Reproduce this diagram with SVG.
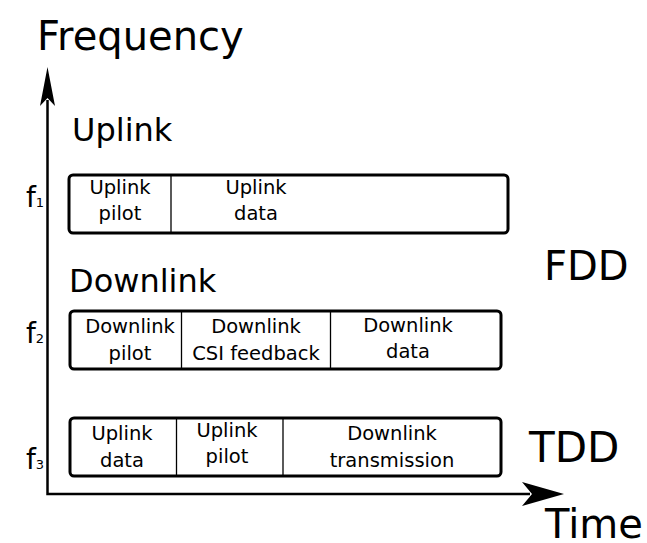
<svg xmlns="http://www.w3.org/2000/svg" width="647" height="543" viewBox="0 0 647 543">
<style>
text{font-family:"DejaVu Sans",sans-serif;fill:#000}
.big{font-size:40px}
.mid{font-size:32px}
.sm{font-size:19.5px;text-anchor:middle}
.f{font-size:28px}
.sub{font-size:13px}
.box{fill:#fff;stroke:#000;stroke-width:3}
.div{stroke:#000;stroke-width:1.3}
.axis{stroke:#000;stroke-width:2.5;fill:none}
</style>
<rect width="647" height="543" fill="#fff"/>
<g id="connectors">
<path class="axis" d="M47.5 100 V494 H530"/>
<path d="M47.5 67 L55 106 L47.5 98 L40 106 Z" fill="#000"/>
<path d="M564 494 L522 482 L532 494 L522 506 Z" fill="#000"/>
</g>
<g id="labels">
<text class="big" x="37" y="50">Frequency</text>
<text class="big" x="545" y="538">Time</text>
<text class="mid" x="72" y="141">Uplink</text>
<text class="mid" x="69" y="292">Downlink</text>
<text class="big" x="544" y="280">FDD</text>
<text class="big" x="529" y="462" style="font-size:42px">TDD</text>
<text class="f" x="26" y="207">f<tspan class="sub">1</tspan></text>
<text class="f" x="26" y="343">f<tspan class="sub">2</tspan></text>
<text class="f" x="26" y="469">f<tspan class="sub">3</tspan></text>
</g>
<g id="fdd-uplink">
<rect class="box" x="69" y="175" width="439" height="58" rx="4"/>
<line class="div" x1="171" y1="176" x2="171" y2="232"/>
<text class="sm" x="120" y="194">Uplink</text>
<text class="sm" x="120" y="220">pilot</text>
<text class="sm" x="256" y="194">Uplink</text>
<text class="sm" x="256" y="220">data</text>
</g>
<g id="fdd-downlink">
<rect class="box" x="70" y="311" width="431" height="58" rx="4"/>
<line class="div" x1="181.5" y1="312" x2="181.5" y2="368"/>
<line class="div" x1="330.5" y1="312" x2="330.5" y2="368"/>
<text class="sm" x="130" y="333">Downlink</text>
<text class="sm" x="130" y="360">pilot</text>
<text class="sm" x="256" y="333">Downlink</text>
<text class="sm" x="256" y="360">CSI feedback</text>
<text class="sm" x="408" y="332">Downlink</text>
<text class="sm" x="408" y="358">data</text>
</g>
<g id="tdd">
<rect class="box" x="70" y="418" width="431" height="58" rx="4"/>
<line class="div" x1="176.5" y1="419" x2="176.5" y2="475"/>
<line class="div" x1="283" y1="419" x2="283" y2="475"/>
<text class="sm" x="122" y="440">Uplink</text>
<text class="sm" x="122" y="467">data</text>
<text class="sm" x="227" y="437">Uplink</text>
<text class="sm" x="227" y="463">pilot</text>
<text class="sm" x="392" y="440">Downlink</text>
<text class="sm" x="392" y="467">transmission</text>
</g>
</svg>
